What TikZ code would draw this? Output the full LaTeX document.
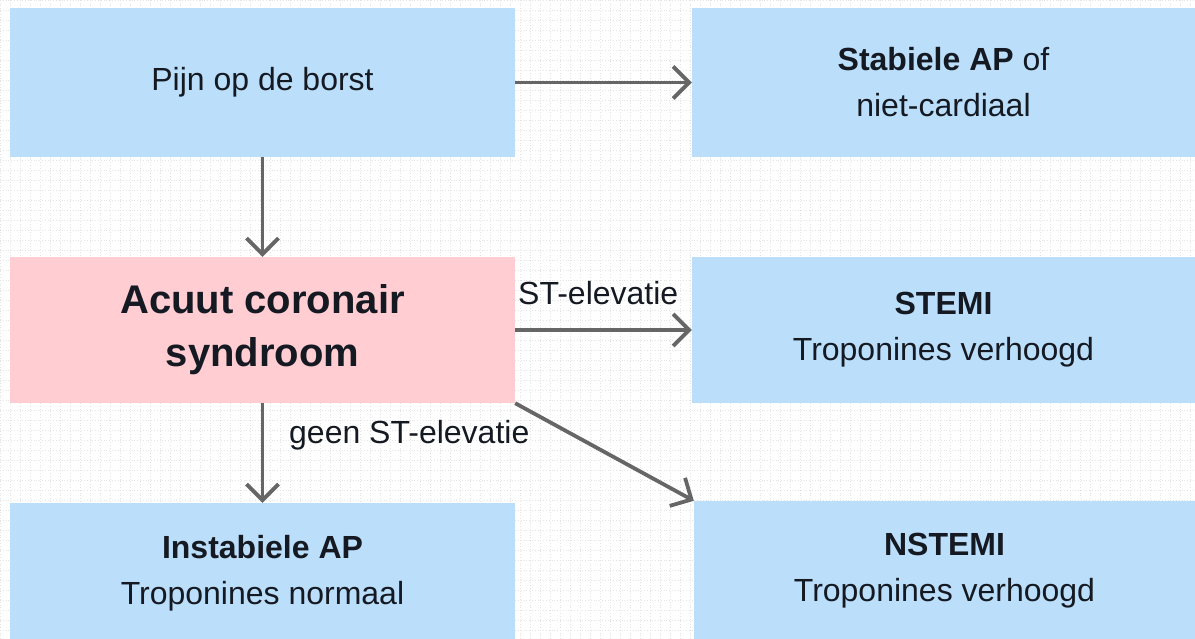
\documentclass[tikz,border=0pt]{standalone}
\usepackage{fontspec}
\setmainfont{Liberation Sans}
\usetikzlibrary{arrows.meta}
\definecolor{boxblue}{HTML}{BBDEFB}
\definecolor{boxpink}{HTML}{FFCDD2}
\definecolor{arrowgray}{HTML}{666666}
\definecolor{txt}{HTML}{151A22}
\definecolor{gridc}{HTML}{E4E4E4}
\tikzset{
  bluebox/.style={rectangle, fill=boxblue, inner sep=0pt, align=center, text=txt,
    font=\fontsize{32}{46}\selectfont},
  pinkbox/.style={rectangle, fill=boxpink, inner sep=0pt, align=center, text=txt,
    font=\fontsize{40}{53}\selectfont\bfseries},
  conn/.style={draw=arrowgray, line width=3.8pt,
    -{Straight Barb[length=16pt, width=32pt, line width=3.8pt]}},
  lbl/.style={inner sep=0pt, text=txt, font=\fontsize{32}{38}\selectfont}
}
\begin{document}
\begin{tikzpicture}[x=1pt, y=-1pt]
\useasboundingbox (0,0) rectangle (1195,639);
\fill[white] (0,0) rectangle (1195,639);
\draw[gridc, dotted, line width=0.8pt, step=10pt] (0,0) grid (1195,639);

\node[bluebox, minimum width=505pt, minimum height=149pt] (pijn) at (262.5,82.5) {Pijn op de borst};
\node[bluebox, minimum width=503pt, minimum height=149pt] (stab) at (943.5,82.5) {\textbf{Stabiele AP} of\\niet-cardiaal};
\node[pinkbox, minimum width=505pt, minimum height=146pt] (acs) at (262.5,330) {Acuut coronair\\syndroom};
\node[bluebox, minimum width=503pt, minimum height=146pt] (stemi) at (943.5,330) {\textbf{STEMI}\\Troponines verhoogd};
\node[bluebox, minimum width=505pt, minimum height=140pt] (iap) at (262.5,573) {\textbf{Instabiele AP}\\Troponines normaal};
\node[bluebox, minimum width=501pt, minimum height=140pt] (nstemi) at (944.5,571) {\textbf{NSTEMI}\\Troponines verhoogd};

\draw[conn] (pijn.east) -- (stab.west);
\draw[conn] (pijn.south) -- (acs.north);
\draw[conn] (acs.east) -- (stemi.west);
\draw[conn] (acs.south) -- (iap.north);
\draw[conn] (acs.south east) -- (nstemi.north west);

\node[lbl, anchor=base west] (lst) at (518,305) {ST-elevatie};
\node[lbl, anchor=base west] (lgeen) at (289,443) {geen ST-elevatie};
\end{tikzpicture}
\end{document}
